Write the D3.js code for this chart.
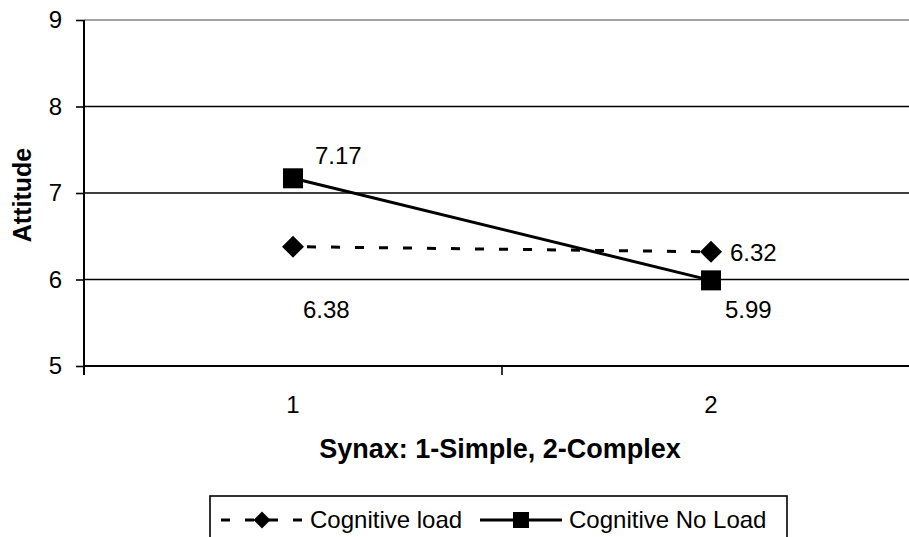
<!DOCTYPE html>
<html>
<head>
<meta charset="utf-8">
<script src="https://cdn.jsdelivr.net/npm/d3@7"></script>
<style>
  html, body { margin: 0; padding: 0; background: #fff; }
  svg { display: block; }
  text { font-family: "Liberation Sans", Arial, sans-serif; fill: #000; }
</style>
</head>
<body>
<svg id="chart" width="909" height="537"></svg>
<script>
const categories = ["1", "2"];
const seriesNames = ["Cognitive load", "Cognitive No Load"];
const loadValues = [6.38, 6.32];
const noLoadValues = [7.17, 5.99];
const yTicks = [5, 6, 7, 8, 9];
const xTitle = "Synax: 1-Simple, 2-Complex";
const yTitle = "Attitude";

(function () {
const svg = d3.select("#chart");
const pLeft = 84, pTop = 20, pBottom = 366, pRight = 920;

const x = d3.scaleBand().domain(categories).range([pLeft, pRight]).paddingInner(0).paddingOuter(0);
const y = d3.scaleLinear().domain([5, 9]).range([pBottom, pTop]);
const cx = c => x(c) + x.bandwidth() / 2;

// gridlines
svg.append("g").selectAll("line").data(yTicks.filter(v => v > 5 && v < 9)).join("line")
  .attr("x1", pLeft).attr("x2", 909)
  .attr("y1", d => y(d)).attr("y2", d => y(d))
  .attr("stroke", "#000").attr("stroke-width", 1.6);
// top border
svg.append("line").attr("x1", pLeft).attr("x2", 909).attr("y1", y(9)).attr("y2", y(9))
  .attr("stroke", "#858585").attr("stroke-width", 1.6);

// y axis
const yAxis = svg.append("g").attr("transform", `translate(${pLeft},0)`)
  .call(d3.axisLeft(y).tickValues(yTicks).tickSize(8).tickPadding(14).tickFormat(d3.format("d")));
yAxis.select(".domain").remove();
yAxis.selectAll(".tick line").attr("stroke", "#000").attr("stroke-width", 1.6);
yAxis.selectAll(".tick text").attr("font-size", 24).attr("font-family", "Liberation Sans, Arial, sans-serif").attr("fill", "#000");
svg.append("line").attr("x1", pLeft).attr("x2", pLeft).attr("y1", pTop).attr("y2", pBottom + 9)
  .attr("stroke", "#000").attr("stroke-width", 2);

// x axis
svg.append("line").attr("x1", pLeft).attr("x2", 909).attr("y1", pBottom).attr("y2", pBottom)
  .attr("stroke", "#000").attr("stroke-width", 2);
const bounds = categories.map(c => x(c)).concat([x(categories[categories.length - 1]) + x.bandwidth()]);
svg.append("g").selectAll("line").data(bounds.slice(1)).join("line")
  .attr("x1", d => d).attr("x2", d => d).attr("y1", pBottom).attr("y2", pBottom + 9)
  .attr("stroke", "#000").attr("stroke-width", 1.6);
svg.append("g").selectAll("text").data(categories).join("text")
  .attr("x", d => cx(d)).attr("y", 413).attr("text-anchor", "middle")
  .attr("font-size", 24).text(d => d);

// titles
svg.append("text").attr("x", 500).attr("y", 458).attr("text-anchor", "middle")
  .attr("font-size", 27).attr("font-weight", "bold").text(xTitle);
svg.append("text").attr("transform", `translate(31,${(pTop + pBottom) / 2 + 2}) rotate(-90)`)
  .attr("text-anchor", "middle").attr("font-size", 25).attr("font-weight", "bold").text(yTitle);

// lines
const line = d3.line().x((d, i) => cx(categories[i])).y(d => y(d));
svg.append("path").datum(noLoadValues).attr("d", line).attr("fill", "none")
  .attr("stroke", "#000").attr("stroke-width", 3);
svg.append("path").datum(loadValues).attr("d", line).attr("fill", "none")
  .attr("stroke", "#000").attr("stroke-width", 3).attr("stroke-dasharray", "9,15").attr("stroke-dashoffset", -14);

// markers
const diamond = s => `M0,${-s}L${s},0L0,${s}L${-s},0Z`;
svg.append("g").selectAll("path").data(loadValues).join("path")
  .attr("transform", (d, i) => `translate(${cx(categories[i])},${y(d)})`)
  .attr("d", diamond(11)).attr("fill", "#000");
svg.append("g").selectAll("rect").data(noLoadValues).join("rect")
  .attr("x", (d, i) => cx(categories[i]) - 10).attr("y", d => y(d) - 10)
  .attr("width", 20).attr("height", 20).attr("fill", "#000");

// data labels
const labelPos = [
  { v: noLoadValues[0], x: 315, y: 164 },
  { v: loadValues[0], x: 303, y: 318 },
  { v: loadValues[1], x: 730, y: 261 },
  { v: noLoadValues[1], x: 725, y: 318 }
];
svg.append("g").selectAll("text").data(labelPos).join("text")
  .attr("x", d => d.x).attr("y", d => d.y).attr("font-size", 24)
  .text(d => d3.format(".2f")(d.v));

// legend
const lg = svg.append("g");
lg.append("rect").attr("x", 210).attr("y", 496).attr("width", 577).attr("height", 80)
  .attr("fill", "#fff").attr("stroke", "#000").attr("stroke-width", 1.6);
lg.append("line").attr("x1", 221).attr("x2", 302).attr("y1", 520).attr("y2", 520)
  .attr("stroke", "#000").attr("stroke-width", 3).attr("stroke-dasharray", "9,15");
lg.append("path").attr("transform", "translate(262,520)").attr("d", diamond(8.5)).attr("fill", "#000");
lg.append("text").attr("x", 310).attr("y", 528).attr("font-size", 24).text(seriesNames[0]);
lg.append("line").attr("x1", 480).attr("x2", 562).attr("y1", 520).attr("y2", 520)
  .attr("stroke", "#000").attr("stroke-width", 3);
lg.append("rect").attr("x", 513).attr("y", 512).attr("width", 16).attr("height", 16).attr("fill", "#000");
lg.append("text").attr("x", 569).attr("y", 528).attr("font-size", 24).text(seriesNames[1]);
})();
</script>
</body>
</html>
